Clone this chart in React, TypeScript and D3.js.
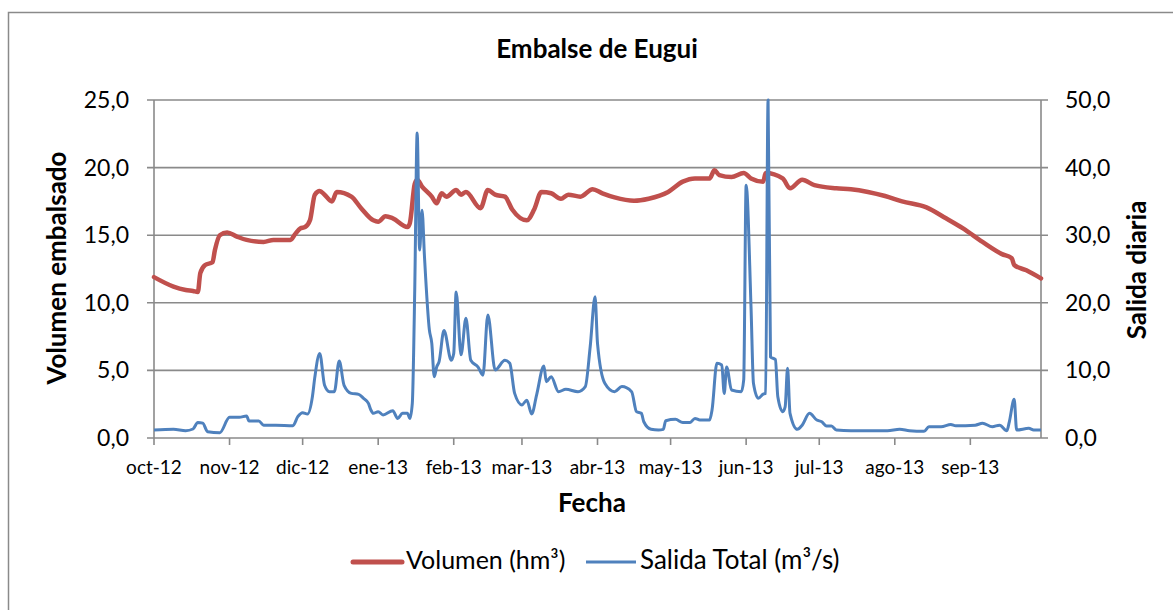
import React from "react";
import * as d3 from "d3";

// day number counted from 1 Oct 2012, value
const volumenDays = [0, 8, 13, 16, 18, 19, 21, 24, 25, 27, 30, 34, 38, 45, 49, 56, 58, 60, 62, 64, 66, 68, 70, 73, 75, 81, 85, 90, 92, 95, 98, 104, 105, 107, 108, 110, 114, 116, 118, 120, 124, 126, 128, 134, 137, 140, 144, 147, 153, 156, 159, 163, 167, 170, 175, 180, 184, 189, 197, 203, 211, 217, 222, 228, 230, 232, 237, 242, 245, 250, 251, 258, 261, 266, 271, 280, 286, 293, 300, 307, 317, 325, 332, 340, 348, 352, 353, 358, 364];
const volumen = [11.9, 11.2, 10.95, 10.87, 10.8, 12.2, 12.8, 13.0, 13.9, 15.0, 15.2, 14.9, 14.65, 14.5, 14.65, 14.65, 15.1, 15.5, 15.6, 16.1, 18.0, 18.27, 18.0, 17.5, 18.2, 17.85, 17.0, 16.1, 16.0, 16.4, 16.25, 15.6, 15.9, 18.8, 19.1, 18.6, 17.85, 17.36, 18.1, 17.85, 18.34, 18.0, 18.2, 17.0, 18.34, 18.0, 17.85, 16.9, 16.1, 16.9, 18.2, 18.1, 17.7, 18.0, 17.85, 18.4, 18.1, 17.8, 17.55, 17.7, 18.2, 18.96, 19.2, 19.2, 19.8, 19.45, 19.3, 19.6, 19.2, 18.96, 19.6, 19.2, 18.47, 19.1, 18.7, 18.47, 18.4, 18.2, 17.9, 17.5, 17.06, 16.25, 15.5, 14.5, 13.6, 13.3, 12.8, 12.4, 11.8];

const salidaDays = [0, 8, 13, 16, 18, 20, 22, 27, 31, 35, 38, 39, 43, 45, 50, 57, 59, 61, 63, 65, 66, 68, 70, 72, 74, 76, 78, 81, 84, 86, 88, 89, 90, 92, 94, 98, 100, 102, 104, 105, 106, 107, 108, 109, 110, 111, 113, 114, 115, 116, 117, 119, 122, 123, 124, 126, 128, 130, 133, 135, 137, 140, 144, 146, 148, 151, 153, 155, 157, 160, 161, 163, 166, 169, 174, 177, 179, 181, 182, 185, 189, 192, 196, 198, 200, 201, 204, 207, 209, 210, 214, 217, 220, 222, 224, 228, 229, 231, 233, 234, 235, 237, 241, 242, 243, 245, 246, 248, 250, 251, 252, 253, 255, 256, 258, 259, 260, 261, 264, 266, 269, 272, 274, 276, 278, 280, 286, 293, 301, 306, 310, 316, 318, 323, 327, 329, 337, 340, 344, 347, 350, 351, 353, 354, 359, 361, 364];
const salida = [1.18, 1.28, 1.08, 1.33, 2.3, 2.2, 0.93, 0.79, 3.06, 3.06, 3.25, 2.5, 2.5, 1.9, 1.9, 1.83, 3.15, 3.75, 3.55, 6.1, 9.0, 12.5, 7.8, 6.85, 6.85, 11.4, 7.8, 6.6, 6.46, 5.87, 5.13, 4.14, 3.65, 3.9, 3.4, 4.04, 2.9, 3.65, 3.65, 2.9, 5.13, 21.9, 45.1, 27.8, 33.7, 26.8, 16.0, 14.0, 9.07, 10.5, 11.3, 15.9, 11.5, 12.5, 21.6, 12.3, 17.7, 11.5, 10.5, 9.3, 18.2, 10.06, 11.5, 11.05, 6.6, 4.9, 5.6, 3.55, 6.36, 10.65, 8.33, 9.07, 6.85, 7.2, 6.85, 7.6, 13.5, 20.9, 14.0, 8.1, 6.85, 7.6, 6.85, 3.9, 3.65, 2.4, 1.28, 1.18, 1.28, 2.56, 2.76, 2.3, 2.3, 2.9, 2.66, 2.66, 4.14, 11.05, 10.8, 6.6, 10.5, 7.1, 6.85, 8.6, 37.4, 19.4, 8.1, 5.87, 6.5, 6.6, 50.0, 12.0, 11.6, 6.1, 3.9, 4.6, 10.3, 3.65, 1.28, 1.9, 3.65, 2.66, 2.4, 1.77, 1.77, 1.18, 1.08, 1.08, 1.08, 1.28, 1.08, 0.99, 1.67, 1.67, 2.0, 1.8, 1.9, 2.17, 1.67, 1.9, 1.08, 2.4, 5.72, 1.18, 1.43, 1.18, 1.18];

const monthLabels = ["oct-12", "nov-12", "dic-12", "ene-13", "feb-13", "mar-13", "abr-13", "may-13", "jun-13", "jul-13", "ago-13", "sep-13"];
const leftTicks = [0, 5, 10, 15, 20, 25];
const rightTicks = [0, 10, 20, 30, 40, 50];

const FONT = "Lato, 'Open Sans', sans-serif";
const RED = "#C0504D";
const BLUE = "#4F81BD";
const GRID = "#8a8a8a";

export default function App() {
  const width = 1173;
  const height = 610;
  const m = { left: 154, right: 1041, top: 100, bottom: 438 };
  const start = new Date(2012, 9, 1);
  const end = new Date(2013, 8, 30);

  const x = d3.scaleTime().domain([start, end]).range([m.left, m.right]);
  const yL = d3.scaleLinear().domain([0, 25]).range([m.bottom, m.top]);
  const yR = d3.scaleLinear().domain([0, 50]).range([m.bottom, m.top]);
  const day = (d: number) => d3.timeDay.offset(start, d);

  const volLine = d3
    .line<number>()
    .x((d, i) => x(day(volumenDays[i])))
    .y((d) => yL(d))
    .curve(d3.curveMonotoneX);
  const salLine = d3
    .line<number>()
    .x((d, i) => x(day(salidaDays[i])))
    .y((d) => yR(d))
    .curve(d3.curveMonotoneX);

  const months = d3.timeMonth.range(start, d3.timeDay.offset(end, 1));
  const fmt = d3.format(".1f");
  const num = (v: number) => fmt(v).replace(".", ",");

  return (
    <svg width={width} height={height} style={{ position: "absolute", left: 0, top: 0 }} fontFamily={FONT}>
      <rect x={0} y={0} width={width} height={height} fill="#fff" />
      <rect x={8.5} y={12.5} width={1200} height={700} fill="none" stroke="#8a8a8a" strokeWidth={1.5} />

      <text x={597} y={58} textAnchor="middle" fontWeight="bold" fontSize={26}>
        Embalse de Eugui
      </text>

      {/* gridlines + left ticks */}
      {leftTicks.map((t) => (
        <g key={"l" + t}>
          <line x1={m.left - 7} x2={m.right + 7} y1={yL(t)} y2={yL(t)} stroke={GRID} strokeWidth={1.6} />
          <text x={129} y={yL(t) + 8} textAnchor="end" fontSize={23}>
            {num(t)}
          </text>
        </g>
      ))}
      {rightTicks.map((t) => (
        <text key={"r" + t} x={1065} y={yR(t) + 8} fontSize={23}>
          {num(t)}
        </text>
      ))}
      <line x1={m.left} x2={m.left} y1={m.top} y2={m.bottom} stroke={GRID} strokeWidth={1.6} />
      <line x1={m.right} x2={m.right} y1={m.top} y2={m.bottom} stroke={GRID} strokeWidth={1.6} />

      {/* month ticks */}
      {months.map((d, i) => (
        <g key={"m" + i}>
          <line x1={x(d)} x2={x(d)} y1={m.bottom} y2={m.bottom + 7} stroke={GRID} strokeWidth={1.6} />
          <text x={x(d)} y={474} textAnchor="middle" fontSize={19}>
            {monthLabels[i]}
          </text>
        </g>
      ))}

      <path d={volLine(volumen) || ""} fill="none" stroke={RED} strokeWidth={4.5} strokeLinejoin="round" strokeLinecap="round" />
      <path d={salLine(salida) || ""} fill="none" stroke={BLUE} strokeWidth={3} strokeLinejoin="round" />

      <text x={592} y={512} textAnchor="middle" fontWeight="bold" fontSize={26}>
        Fecha
      </text>
      <text transform="translate(66,268) rotate(-90)" textAnchor="middle" fontWeight="bold" fontSize={26}>
        Volumen embalsado
      </text>
      <text transform="translate(1146,270) rotate(-90)" textAnchor="middle" fontWeight="bold" fontSize={26}>
        Salida diaria
      </text>

      {/* legend */}
      <line x1={353} x2={402} y1={562} y2={562} stroke={RED} strokeWidth={5} strokeLinecap="round" />
      <text x={406} y={569} fontSize={25}>
        Volumen (hm³)
      </text>
      <line x1={586} x2={636} y1={562} y2={562} stroke={BLUE} strokeWidth={3} />
      <text x={640} y={569} fontSize={26}>
        Salida Total (m³/s)
      </text>
    </svg>
  );
}
